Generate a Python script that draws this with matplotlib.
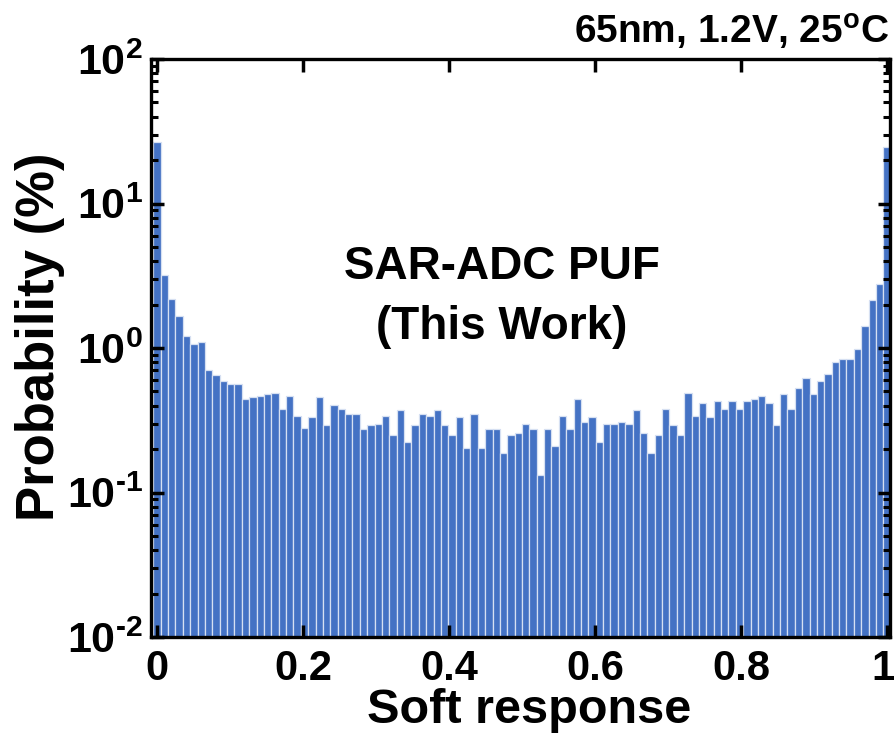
import numpy as np
import matplotlib
matplotlib.use("Agg")
import matplotlib.pyplot as plt
import matplotlib.transforms as mtransforms
from matplotlib.ticker import LogLocator, NullFormatter, FixedLocator, FixedFormatter

# 100 bins of the soft response, percent of responses in each bin
n_bins = 100
probability = [
    26.5, 3.18, 2.17, 1.665, 1.197, 1.05, 1.083, 0.693, 0.637, 0.585,
    0.557, 0.557, 0.434, 0.451, 0.458, 0.471, 0.481, 0.366, 0.458, 0.328,
    0.268, 0.321, 0.451, 0.282, 0.394, 0.366, 0.342, 0.342, 0.267, 0.281,
    0.290, 0.326, 0.241, 0.361, 0.212, 0.281, 0.342, 0.326, 0.361, 0.281,
    0.241, 0.321, 0.192, 0.342, 0.192, 0.267, 0.267, 0.179, 0.241, 0.250,
    0.290, 0.267, 0.122, 0.267, 0.201, 0.326, 0.267, 0.432, 0.299, 0.321,
    0.212, 0.290, 0.290, 0.299, 0.290, 0.361, 0.250, 0.179, 0.241, 0.366,
    0.281, 0.241, 0.478, 0.326, 0.406, 0.321, 0.421, 0.366, 0.421, 0.366,
    0.421, 0.434, 0.458, 0.408, 0.283, 0.473, 0.366, 0.515, 0.610, 0.473,
    0.585, 0.650, 0.791, 0.835, 0.835, 0.969, 1.413, 2.15, 2.76, 24.5,
]
x_ticks = [0, 0.2, 0.4, 0.6, 0.8, 1]
x_tick_labels = ["0", "0.2", "0.4", "0.6", "0.8", "1"]
y_ticks = [1e-2, 1e-1, 1e0, 1e1, 1e2]
y_tick_labels = [r"$10^{\text{-}2}$", r"$10^{\text{-}1}$", r"$10^{0}$",
                 r"$10^{1}$", r"$10^{2}$"]

plt.rcParams["font.family"] = ["Liberation Sans", "DejaVu Sans"]
plt.rcParams["font.weight"] = "bold"
plt.rcParams["mathtext.fontset"] = "custom"
plt.rcParams["mathtext.rm"] = "Liberation Sans:bold"
plt.rcParams["mathtext.bf"] = "Liberation Sans:bold"
plt.rcParams["mathtext.it"] = "Liberation Sans:bold"
plt.rcParams["mathtext.default"] = "bf"

fig = plt.figure(figsize=(8.96, 7.36), dpi=100)
ax = fig.add_axes([151 / 896, 99 / 736, 739 / 896, 578 / 736])

centers = np.linspace(0, 1, n_bins)
ax.bar(centers, probability, width=1 / (n_bins - 1), color="#4472C4",
       edgecolor="#d6e0f2", linewidth=0.9, bottom=0.01)

ax.set_yscale("log")
ax.set_ylim(1e-2, 1e2)
ax.set_xlim(-0.0082, 1.0041)

ax.set_xticks(x_ticks)
ax.set_xticklabels(x_tick_labels)
ax.yaxis.set_major_locator(FixedLocator(y_ticks))
ax.yaxis.set_major_formatter(FixedFormatter(y_tick_labels))
ax.yaxis.set_minor_locator(LogLocator(base=10, subs=np.arange(2, 10), numticks=20))
ax.yaxis.set_minor_formatter(NullFormatter())

ax.tick_params(axis="x", which="major", direction="in", length=9, width=2.5,
               labelsize=30, top=True, pad=9)
ax.tick_params(axis="y", which="major", direction="in", length=9, width=2.5,
               labelsize=31, right=True, pad=6)
ax.tick_params(axis="y", which="minor", direction="in", length=5, width=2.2,
               right=True)
for sp in ax.spines.values():
    sp.set_linewidth(2.4)

# keep the "1" label inside the figure
last = ax.get_xticklabels()[-1]
last.set_transform(last.get_transform() +
                   mtransforms.ScaledTranslation(-4 / 100, 0, fig.dpi_scale_trans))

ax.set_xlabel("Soft response", fontsize=35, fontweight="bold")
ax.xaxis.set_label_coords(0.512, -0.088)
ax.set_ylabel("Probability (%)", fontsize=38, fontweight="bold")
ax.yaxis.set_label_coords(-0.117, 0.52)

ax.text(0.475, 0.588, "SAR-ADC PUF\n(This Work)", transform=ax.transAxes,
        ha="center", va="center", fontsize=33, fontweight="bold",
        linespacing=1.45)
fig.text(889 / 896, 1 - 12 / 736, "65nm, 1.2V, 25$^{o}$C", ha="right", va="top",
         fontsize=28, fontweight="bold")

fig.savefig("out.png", dpi=100)
